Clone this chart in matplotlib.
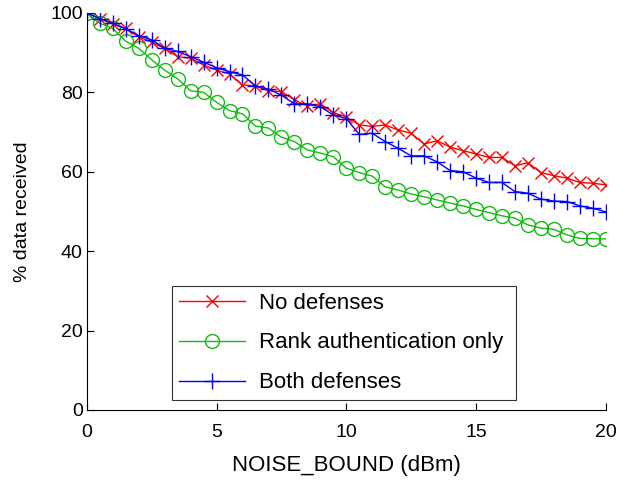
import numpy as np
import matplotlib.pyplot as plt

plt.rcParams['font.family'] = ['Liberation Sans', 'DejaVu Sans']

# NOISE_BOUND 0..20 dBm in steps of 0.5
noise = np.arange(0, 20.01, 0.5)

no_def = [100, 98.5, 97.2, 96.1, 94.0, 92.6, 91.1, 89.0, 88.6, 86.9,
          85.6, 84.6, 81.9, 81.6, 80.4, 80.2, 78.1, 76.6, 77.1, 74.9,
          73.8, 71.8, 71.4, 71.8, 70.5, 69.7, 67.0, 67.8, 66.2, 65.3,
          64.5, 63.6, 63.6, 61.5, 62.3, 59.8, 59.0, 58.4, 57.3, 57.1, 56.7]
rank_only = [100, 97.4, 96.1, 92.9, 91.1, 88.2, 85.6, 83.4, 80.4, 80.0,
             77.5, 75.4, 74.6, 71.5, 71.0, 68.7, 67.6, 65.5, 64.7, 63.8,
             60.9, 59.8, 58.9, 56.2, 55.4, 54.4, 53.7, 52.9, 52.1, 51.4,
             50.5, 49.7, 48.9, 48.3, 46.6, 45.8, 45.5, 44.1, 43.2, 43.1, 43.1]
both_def = [100, 98.6, 97.4, 96.0, 94.3, 93.2, 91.1, 90.3, 89.0, 87.6,
            86.2, 85.2, 84.4, 81.6, 80.8, 79.3, 77.1, 77.1, 76.4, 74.3,
            73.4, 69.4, 69.7, 67.6, 65.9, 64.0, 64.0, 62.5, 60.3, 60.0,
            58.4, 57.3, 57.3, 55.0, 54.6, 53.1, 52.6, 52.5, 51.4, 50.8, 49.9]

labels = ['No defenses', 'Rank authentication only', 'Both defenses']

fig = plt.figure(figsize=(6.2, 4.8), dpi=100)
ax = fig.add_axes([0.140, 0.146, 0.837, 0.827])

ax.plot(noise, no_def, '-x', color='#ff0000', lw=1, ms=8, mew=1, label=labels[0])
ax.plot(noise, rank_only, '-o', color='#11bb11', lw=1, ms=10, mew=1,
        mfc='none', label=labels[1])
ax.plot(noise, both_def, '-+', color='#0000ff', lw=1, ms=12, mew=1, label=labels[2])

ax.set_xlim(0, 20)
ax.set_ylim(0, 100)
ax.set_xticks([0, 5, 10, 15, 20])
ax.set_yticks([0, 20, 40, 60, 80, 100])
ax.tick_params(direction='in', labelsize=14, length=5, width=0.8)
ax.tick_params(axis='y', pad=3)
ax.tick_params(axis='x', pad=10)
ax.spines['top'].set_visible(False)
ax.spines['right'].set_visible(False)
ax.set_xlabel('NOISE_BOUND (dBm)', fontsize=16, labelpad=10)
ax.set_ylabel('% data received', fontsize=14, labelpad=14)

leg = ax.legend(loc='lower left', bbox_to_anchor=(0.164, 0.025, 0.663, 0.29),
                mode='expand', fontsize=16, handlelength=3.0, handletextpad=0.6,
                fancybox=False, edgecolor='black', borderaxespad=0,
                labelspacing=0.85, borderpad=0.3)
leg.get_frame().set_linewidth(0.8)

fig.savefig('out.png')
